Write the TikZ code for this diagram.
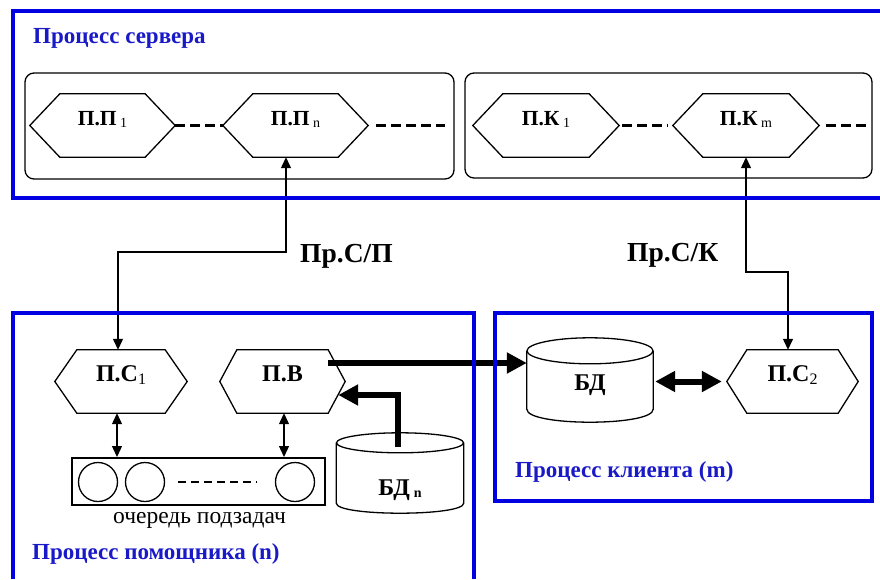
\documentclass[tikz,border=0pt]{standalone}
\usepackage{fontspec}
\setmainfont{Liberation Serif}
\usetikzlibrary{arrows.meta,calc}
\definecolor{frameblue}{RGB}{0,0,225}
\definecolor{titleblue}{RGB}{25,25,200}

% small lowered index after a bold label
\newcommand\lowidx[1]{{\fontsize{14}{14}\selectfont\mdseries\raisebox{-2pt}{#1}}}
\newcommand\lowidxm[1]{{\fontsize{16}{16}\selectfont\mdseries\raisebox{-2.5pt}{#1}}}
\newcommand\lowidxb[1]{{\fontsize{14}{14}\selectfont\raisebox{-2pt}{#1}}}

% flat hexagon drawn over a rectangular node: #1 node, #2 tip length
\newcommand\hexdraw[2]{%
  \draw[hexline] ([xshift=#2]#1.north west) -- ([xshift=-#2]#1.north east) -- (#1.east)
    -- ([xshift=-#2]#1.south east) -- ([xshift=#2]#1.south west) -- (#1.west) -- cycle;}

% upright database cylinder over a rectangular node: #1 node, #2 rx, #3 ry, #4 ry/3
\newcommand\cyldraw[4]{%
  \draw[cylline] ([yshift=-#3]#1.north) ellipse [x radius=#2, y radius=#3];
  \draw[cylline] ([yshift=-#3]#1.north west) -- ([yshift=#3]#1.south west)
    .. controls ([yshift=-#4]#1.south west) and ([yshift=-#4]#1.south east) .. ([yshift=#3]#1.south east)
    -- ([yshift=-#3]#1.north east);}

\begin{document}
\begin{tikzpicture}[x=1pt,y=-1pt,
  hexbox/.style={rectangle, inner sep=0pt, minimum height=63pt, minimum width=#1,
    text height=15pt, text depth=15pt, font=\fontsize{21.5}{21.5}\selectfont\bfseries},
  hexboxL/.style={hexbox=#1, text height=17pt, text depth=17pt, font=\fontsize{24}{24}\selectfont\bfseries},
  hexline/.style={line width=1.3pt, line join=miter},
  cylbox/.style={rectangle, inner sep=0pt, font=\fontsize{24}{24}\selectfont\bfseries},
  cylline/.style={line width=1.3pt},
  group/.style={draw, line width=1.3pt, rounded corners=9pt, inner sep=0pt},
  frame/.style={draw=frameblue, line width=4pt},
  title/.style={inner sep=0pt, anchor=base west, text=titleblue,
    font=\fontsize{23}{23}\selectfont\bfseries},
  chan/.style={inner sep=0pt, anchor=base west, font=\fontsize{27.5}{27.5}\selectfont\bfseries},
  dashline/.style={line width=3pt, dash pattern=on 10pt off 5pt},
  thinlink/.style={line width=1.3pt, {Triangle[length=11pt,width=10pt]}-{Triangle[length=11pt,width=10pt]}},
  fatlink/.style={line width=6pt, -{Triangle[length=20pt,width=20pt]}},
  fatboth/.style={line width=6pt, {Triangle[length=20pt,width=20pt]}-{Triangle[length=20pt,width=20pt]}},
  slot/.style={draw, circle, line width=1.3pt, minimum size=39pt, inner sep=0pt}
]
\useasboundingbox (0,0) rectangle (880,579);

% ---------- server process ----------
\node[title] (srvTitle) at (33,43) {Процесс сервера};
\node[group, minimum width=429pt, minimum height=106pt] (grpP) at (239.5,126) {};
\node[group, minimum width=407pt, minimum height=105pt] (grpK) at (668.5,125.5) {};

\node[hexbox=145pt] (pp1) at (102.5,125.5) {П.П\,\lowidx{1}};
\node[hexbox=145pt] (ppn) at (295.5,125.5) {П.П\,\lowidx{n}};
\node[hexbox=146pt] (pk1) at (546,125.5) {П.К\,\lowidx{1}};
\node[hexbox=146pt] (pkm) at (746,125.5) {П.К\,\lowidx{m}};
\hexdraw{pp1}{30pt}\hexdraw{ppn}{30pt}\hexdraw{pk1}{30pt}\hexdraw{pkm}{30pt}

\coordinate (pEnd) at (445,125.5);
\coordinate (kEnd) at (869,125.5);
\draw[dashline] (pp1.east) -- (ppn.west);
\draw[dashline] ([xshift=8pt]ppn.east) -- (pEnd);
\draw[dashline] ([xshift=3pt]pk1.east) -- ([xshift=-5pt]pkm.west);
\draw[dashline] ([xshift=7pt]pkm.east) -- (kEnd);

% ---------- helper process ----------
\node[hexboxL=132pt] (ps1) at (121,381.5) {П.С\lowidxm{1}};
\node[hexboxL=125pt] (pv) at (282.5,381.5) {П.В};
\hexdraw{ps1}{22pt}\hexdraw{pv}{17pt}

\node[draw, rectangle, line width=2pt, inner sep=0pt, minimum width=253pt, minimum height=47pt]
  (queue) at (198.5,481.5) {};
\node[slot] (q1) at (98,482) {};
\node[slot] (q2) at (145,482) {};
\node[slot] (q3) at (295,482) {};
\draw[line width=2.5pt, dash pattern=on 8pt off 5pt] ([xshift=13pt]q2.east) -- ([xshift=-18pt]q3.west);
\node[inner sep=0pt, anchor=base, font=\fontsize{23.5}{23.5}\selectfont] (qLabel) at (199.5,523) {очередь подзадач};

\draw[thinlink] ([xshift=-4pt]ps1.south) -- ([xshift=-4pt]ps1.south |- queue.north);
\draw[thinlink] ([xshift=1.5pt]pv.south) -- ([xshift=1.5pt]pv.south |- queue.north);

\node[cylbox, minimum width=127pt, minimum height=80pt, text height=44pt, text depth=0pt]
  (bdn) at (400,473) {БД\,\lowidxb{n}};
\cyldraw{bdn}{63.5pt}{10pt}{3.33pt}

\node[title] (hlpTitle) at (32,559) {Процесс помощника (n)};

% ---------- client process ----------
\node[cylbox, minimum width=126pt, minimum height=84pt, text height=20pt, text depth=0pt]
  (bd) at (590,380) {БД};
\cyldraw{bd}{63pt}{13pt}{4.33pt}
\node[hexboxL=131pt] (ps2) at (792.5,381.5) {П.С\lowidxm{2}};
\hexdraw{ps2}{20pt}
\node[title] (cliTitle) at (515,477) {Процесс клиента (m)};

% ---------- channels ----------
\coordinate (cpA) at (286,252);
\coordinate (cpB) at (118,252);
\draw[thinlink] (ppn.south -| cpA) -- (cpA) -- (cpB) -- (cpB |- ps1.north);
\node[chan] (chanP) at (300,262) {Пр.С/П};

\coordinate (ckA) at (746,272);
\coordinate (ckB) at (788,272);
\draw[thinlink] (pkm.south -| ckA) -- (ckA) -- (ckB) -- (ckB |- ps2.north);
\node[chan] (chanK) at (627,261) {Пр.С/К};

% ---------- data flows ----------
\draw[fatlink] ($(pv.east)+(-17,-18.5)$) -- (bd.west |- {$(pv.east)+(-17,-18.5)$});
\coordinate (bdnTap) at (398,447);
\draw[fatlink, line join=miter] (bdnTap) |- ($(pv.east)+(-7,13.5)$);
\draw[fatboth] ([xshift=2pt]bd.east |- ps2.west) -- ([xshift=-5pt]ps2.west);

% ---------- process frames ----------
\draw[frame] (880,10.5) -- (12.5,10.5) -- (12.5,198) -- (880,198);
\draw[frame] (12.5,579) -- (12.5,313) -- (473.5,313) -- (473.5,579);
\draw[frame] (495,312.5) rectangle (871.5,501);
\end{tikzpicture}
\end{document}
